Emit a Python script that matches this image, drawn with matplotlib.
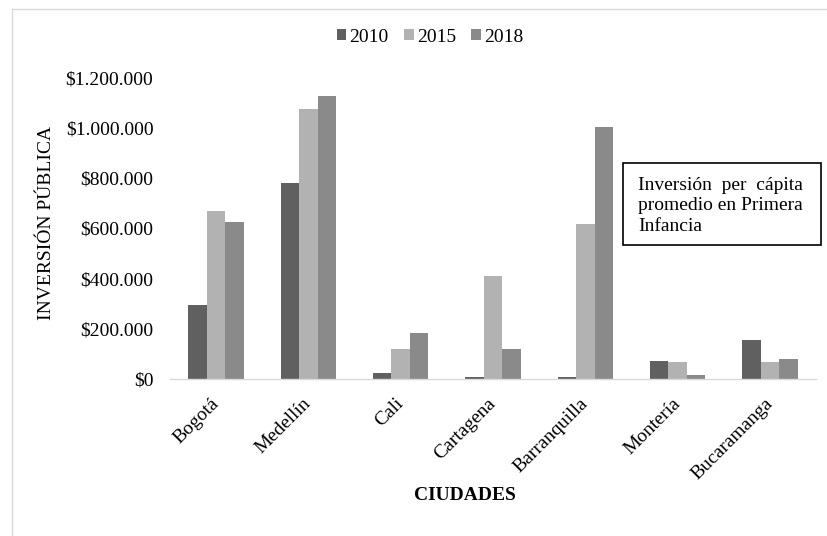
import numpy as np
import matplotlib.pyplot as plt
from matplotlib.lines import Line2D
from matplotlib.patches import Rectangle
from matplotlib.ticker import FuncFormatter

ciudades = ['Bogotá', 'Medellín', 'Cali', 'Cartagena', 'Barranquilla', 'Montería', 'Bucaramanga']
anios = ['2010', '2015', '2018']
inv_2010 = [296000, 783000, 25000, 8000, 8000, 71000, 156000]
inv_2015 = [669000, 1077000, 120000, 409000, 616000, 69000, 69000]
inv_2018 = [627000, 1129000, 183000, 121000, 1004000, 17000, 79000]
colores = ['#606060', '#b2b2b2', '#8a8a8a']

plt.rcParams['font.family'] = 'Liberation Serif'
plt.rcParams['font.size'] = 14

W, H = 827, 536
fig = plt.figure(figsize=(W / 100, H / 100), dpi=100)
ax = fig.add_axes([170 / W, 1 - 379 / H, 646 / W, 301 / H])

x = np.arange(len(ciudades))
ancho = 0.2
for i, serie in enumerate([inv_2010, inv_2015, inv_2018]):
    ax.bar(x + (i - 1) * ancho, serie, ancho, color=colores[i], label=anios[i])

ax.set_xlim(-0.5, len(ciudades) - 0.5)
ax.set_ylim(0, 1200000)
ax.set_yticks(np.arange(0, 1200001, 200000))
ax.yaxis.set_major_formatter(FuncFormatter(lambda v, p: '$' + f'{int(v):,}'.replace(',', '.')))
ax.set_xticks(x)
ax.set_xticklabels(ciudades, rotation=45, ha='right', va='center', rotation_mode='anchor')

for lado in ['top', 'left', 'right']:
    ax.spines[lado].set_visible(False)
ax.spines['bottom'].set_color('#d9d9d9')
ax.spines['bottom'].set_linewidth(1.0)
ax.tick_params(axis='y', length=0, pad=12)
ax.tick_params(axis='x', length=0, pad=16)

fig.text(47 / W, 1 - 223 / H, 'INVERSIÓN PÚBLICA', rotation=90, ha='center', va='center')
fig.text(465 / W, 1 - 495 / H, 'CIUDADES', weight='bold', ha='center', va='center')

fig.legend(loc='center', bbox_to_anchor=(430 / W, 1 - 37 / H), ncol=3, frameon=False,
           handlelength=0.5, handleheight=0.5, handletextpad=0.15, columnspacing=0.8)

# marco exterior (solo se ven borde izquierdo y superior)
fig.add_artist(Line2D([12 / W, 12 / W], [0, 1 - 9 / H], transform=fig.transFigure, color='#d9d9d9', lw=1))
fig.add_artist(Line2D([12 / W, 1], [1 - 9 / H, 1 - 9 / H], transform=fig.transFigure, color='#d9d9d9', lw=1))

# cuadro de texto
fig.add_artist(Rectangle((623 / W, 1 - 245 / H), 198 / W, 82 / H, transform=fig.transFigure,
                         fill=False, edgecolor='black', lw=1.2))
fig.text(638 / W, 1 - 206 / H, 'Inversión  per  cápita\npromedio en Primera\nInfancia',
         ha='left', va='center', linespacing=1.28)

fig.savefig('out.png', dpi=100)
